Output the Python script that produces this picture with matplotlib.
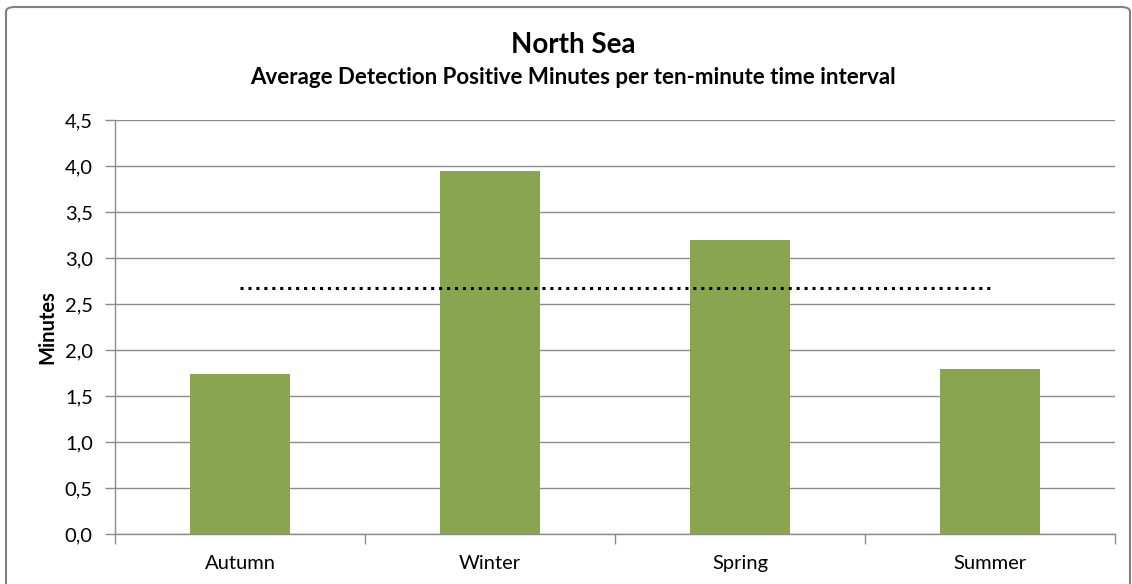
import matplotlib.pyplot as plt
from matplotlib.patches import FancyBboxPatch

seasons = ["Autumn", "Winter", "Spring", "Summer"]
dpm = [1.74, 3.95, 3.20, 1.79]
average_dpm = 2.67
y_ticks = [0.0, 0.5, 1.0, 1.5, 2.0, 2.5, 3.0, 3.5, 4.0, 4.5]

plt.rcParams['font.family'] = ['Lato', 'DejaVu Sans']

W, H = 1132, 584
fig = plt.figure(figsize=(W / 100, H / 100), dpi=100)
fig.patch.set_facecolor('white')

# chart frame
frame = FancyBboxPatch((6 / W, -0.05), (1130 - 6) / W, (H - 7) / H + 0.05,
                       boxstyle="round,pad=0,rounding_size=0.008",
                       transform=fig.transFigure, fill=False,
                       edgecolor='#808080', linewidth=1.5)
fig.patches.append(frame)

left, right, top, bottom = 115, 1115, 120, 534
ax = fig.add_axes([left / W, 1 - bottom / H, (right - left) / W, (bottom - top) / H])

x = list(range(len(seasons)))
ax.bar(x, dpm, width=0.4, color='#8aa54f', zorder=3)
ax.plot(x, [average_dpm] * len(seasons), linestyle=(0, (1, 1.6)),
        color='black', linewidth=2.2, zorder=4)

ax.set_xlim(-0.5, len(seasons) - 0.5)
ax.set_ylim(0, 4.5)
ax.set_yticks(y_ticks)
ax.set_yticklabels([f"{v:.1f}".replace('.', ',') for v in y_ticks], fontsize=14.5)
ax.yaxis.grid(True, color='#8c8c8c', linewidth=1)
ax.set_axisbelow(True)

ax.set_xticks(x)
ax.set_xticklabels(seasons, fontsize=14.5)
ax.set_xticks([i - 0.5 for i in range(len(seasons) + 1)], minor=True)
ax.tick_params(axis='x', which='major', length=0, pad=15)
ax.tick_params(axis='x', which='minor', length=7, color='#8c8c8c', width=1)
ax.tick_params(axis='y', length=7, color='#8c8c8c', width=1, pad=9)

for s in ['top', 'right']:
    ax.spines[s].set_visible(False)
for s in ['left', 'bottom']:
    ax.spines[s].set_color('#8c8c8c')
    ax.spines[s].set_linewidth(1)

ax.set_ylabel("Minutes", fontsize=14.5, fontweight='bold', labelpad=5.5)

fig.text(573 / W, 1 - 45 / H, "North Sea", ha='center', va='center',
         fontsize=20, fontweight='bold')
fig.text(573 / W, 1 - 77 / H,
         "Average Detection Positive Minutes per ten-minute time interval",
         ha='center', va='center', fontsize=16, fontweight='bold')

fig.savefig("out.png", dpi=100)
